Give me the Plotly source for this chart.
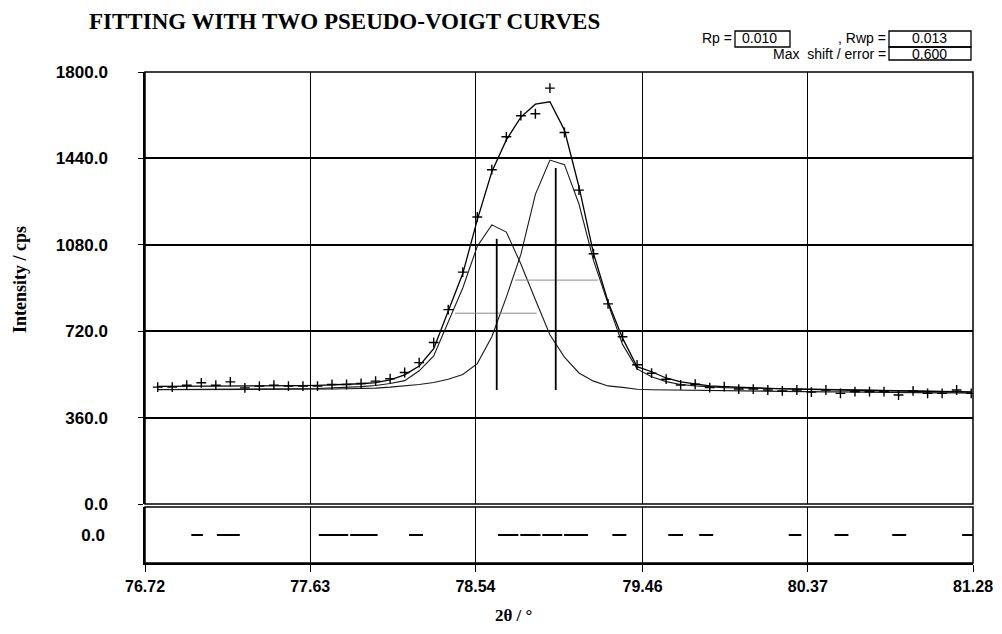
import plotly.graph_objects as go

# ---------------- data ----------------
two_theta = [76.79, 76.87, 76.95, 77.03, 77.11, 77.19, 77.27, 77.35, 77.43, 77.51,
             77.59, 77.67, 77.75, 77.83, 77.91, 77.99, 78.07, 78.15, 78.23, 78.31,
             78.39, 78.47, 78.55, 78.63, 78.71, 78.79, 78.87, 78.95, 79.03, 79.11,
             79.19, 79.27, 79.35, 79.43, 79.51, 79.59, 79.67, 79.75, 79.83, 79.91,
             79.99, 80.07, 80.15, 80.23, 80.31, 80.39, 80.47, 80.55, 80.63, 80.71,
             80.79, 80.87, 80.95, 81.03, 81.11, 81.19, 81.27]

observed = [487, 487, 495, 505, 495, 509, 484, 491, 495, 491,
            491, 491, 498, 498, 502, 512, 522, 548, 589, 673,
            810, 966, 1196, 1393, 1530, 1618, 1626, 1733, 1548, 1308,
            1043, 834, 697, 580, 545, 520, 496, 499, 485, 489,
            479, 479, 475, 471, 475, 466, 475, 461, 468, 468,
            468, 454, 471, 461, 461, 475, 461]

fit_total = [490, 490, 490, 490, 490, 490, 490, 491, 491, 492,
             493, 494, 496, 498, 501, 506, 517, 538, 575, 647,
             805, 960, 1184, 1384, 1517, 1612, 1666, 1676, 1558, 1322,
             1044, 843, 691, 572, 551, 525, 509, 500, 492, 489,
             486, 484, 482, 480, 479, 477, 476, 475, 474, 473,
             472, 471, 470, 469, 468, 467, 466]

component_1 = [477, 477, 477, 477, 477, 477, 478, 478, 479, 479,
               480, 481, 483, 486, 489, 494, 502, 514, 555, 617,
               755, 900, 1074, 1163, 1133, 1000, 851, 705, 612, 546,
               512, 492, 486, 478, 476, 475, 474, 473, 472, 471,
               470, 470, 469, 469, 468, 468, 467, 467, 466, 466,
               465, 465, 464, 464, 463, 463, 462]

component_2 = [476, 476, 476, 477, 477, 477, 477, 477, 478, 478,
               478, 478, 479, 480, 481, 483, 487, 492, 498, 506,
               520, 540, 585, 697, 862, 1040, 1290, 1433, 1414, 1250,
               1015, 835, 665, 563, 530, 510, 498, 492, 488, 485,
               484, 483, 482, 481, 480, 479, 478, 477, 476, 475,
               474, 473, 472, 471, 470, 469, 468]

peak_position = [78.657, 78.982]
peak_top = [1105, 1400]
peak_base = [475, 475]

fwhm_left = [78.427, 78.757]
fwhm_right = [78.877, 79.214]
fwhm_level = [795, 933]

diff_start = [76.975, 77.116, 77.677, 77.850, 78.174, 78.664, 78.787, 78.908, 79.028,
              79.294, 79.602, 79.772, 80.265, 80.517, 80.835, 81.220]
diff_end = [77.039, 77.242, 77.839, 78.001, 78.251, 78.776, 78.898, 79.018, 79.160,
            79.371, 79.683, 79.849, 80.335, 80.594, 80.912, 81.280]

x_ticks = [76.72, 77.63, 78.54, 79.46, 80.37, 81.28]
x_tick_labels = ["76.72", "77.63", "78.54", "79.46", "80.37", "81.28"]
y_ticks = [0, 360, 720, 1080, 1440, 1800]
y_tick_labels = ["0.0", "360.0", "720.0", "1080.0", "1440.0", "1800.0"]

title_text = "FITTING WITH TWO PSEUDO-VOIGT CURVES"
rp_value, rwp_value, shift_value = "0.010", "0.013", "0.600"

# ---------------- layout helpers ----------------
# the page body has an 8 px margin, so the figure is drawn 8 px in from the window corner
BODY = 8
WIN_W, WIN_H = 1002, 634
W, H = WIN_W - 2 * BODY, WIN_H - 2 * BODY
L, R, T, B = 145, 973, 72, 563          # plot box in window pixels


def px(xp):
    return (xp - L) / (R - L)


def py(yp):
    return (B - yp) / (B - T)


SANS = "Liberation Sans, Arial, sans-serif"
SERIF = "Liberation Serif, Times New Roman, serif"

fig = go.Figure()

# component curves
for comp in (component_1, component_2):
    fig.add_trace(go.Scatter(x=two_theta, y=comp, mode="lines",
                             line=dict(color="#1a1a1a", width=1.1),
                             xaxis="x", yaxis="y", hoverinfo="skip"))

# FWHM bars
fx, fy = [], []
for a, b, lv in zip(fwhm_left, fwhm_right, fwhm_level):
    fx += [a, b, None]
    fy += [lv, lv, None]
fig.add_trace(go.Scatter(x=fx, y=fy, mode="lines", line=dict(color="#8a8a8a", width=1),
                         xaxis="x", yaxis="y", hoverinfo="skip"))

# peak position bars
vx, vy = [], []
for p, t, b in zip(peak_position, peak_top, peak_base):
    vx += [p, p, None]
    vy += [b, t, None]
fig.add_trace(go.Scatter(x=vx, y=vy, mode="lines", line=dict(color="black", width=1.8),
                         xaxis="x", yaxis="y", hoverinfo="skip"))

# total fit
fig.add_trace(go.Scatter(x=two_theta, y=fit_total, mode="lines",
                         line=dict(color="black", width=1.3),
                         xaxis="x", yaxis="y", hoverinfo="skip"))

# observed points
fig.add_trace(go.Scatter(x=two_theta, y=observed, mode="markers",
                         marker=dict(symbol="cross-thin", size=7, color="black",
                                     line=dict(color="black", width=1.4)),
                         xaxis="x", yaxis="y", hoverinfo="skip"))

# difference curve
dx, dy = [], []
for a, b in zip(diff_start, diff_end):
    dx += [a, b, None]
    dy += [0, 0, None]
fig.add_trace(go.Scatter(x=dx, y=dy, mode="lines", line=dict(color="black", width=2),
                         xaxis="x", yaxis="y2", hoverinfo="skip"))

main_bottom = py(504)
diff_top = py(507)
tick_font = dict(family=SANS, size=17, color="black", weight="bold")

fig.update_layout(
    width=W, height=H,
    margin=dict(l=L - BODY, r=W - (R - BODY), t=T - BODY, b=H - (B - BODY), pad=0,
                autoexpand=False),
    paper_bgcolor="white", plot_bgcolor="white",
    showlegend=False,
    xaxis=dict(domain=[0, 1], range=[76.72, 81.28], anchor="y2",
               tickvals=x_ticks, ticktext=x_tick_labels,
               ticks="outside", ticklen=7, tickwidth=1.2, tickcolor="black",
               showline=True, linecolor="black", linewidth=1.5,
               showgrid=True, gridcolor="black", gridwidth=1.3, zeroline=False,
               tickfont=dict(family=SANS, size=16, color="black", weight="bold"),
               ticklabeloverflow="allow", ticklabelstandoff=1, automargin=False),
    yaxis=dict(domain=[main_bottom, 1], range=[0, 1800], anchor="x",
               tickvals=y_ticks, ticktext=y_tick_labels,
               ticks="outside", ticklen=5, tickcolor="black",
               showline=True, linecolor="black", linewidth=1.5,
               showgrid=True, gridcolor="black", gridwidth=1.6, zeroline=False,
               tickfont=tick_font, ticklabelstandoff=27, automargin=False),
    yaxis2=dict(domain=[0, diff_top], range=[-1, 1], anchor="x",
                tickvals=[0], ticktext=["0.0"], ticks="",
                showline=True, linecolor="black", linewidth=1.5,
                showgrid=False, zeroline=False,
                tickfont=tick_font, ticklabelstandoff=35, automargin=False),
)

shapes = [
    dict(type="rect", xref="x domain", yref="y domain", x0=0, x1=1, y0=0, y1=1,
         line=dict(color="black", width=1.5)),
    dict(type="rect", xref="x domain", yref="y2 domain", x0=0, x1=1, y0=0, y1=1,
         line=dict(color="black", width=1.5)),
    # result boxes
    dict(type="rect", xref="paper", yref="paper", x0=px(735), x1=px(790), y0=py(47), y1=py(31),
         line=dict(color="black", width=1.3)),
    dict(type="rect", xref="paper", yref="paper", x0=px(889), x1=px(971), y0=py(47), y1=py(31),
         line=dict(color="black", width=1.3)),
    dict(type="rect", xref="paper", yref="paper", x0=px(889), x1=px(971), y0=py(60), y1=py(47),
         line=dict(color="black", width=1.3)),
]
fig.update_layout(shapes=shapes)

ann_font = dict(family=SANS, size=14, color="black")
annotations = [
    dict(text=title_text, x=px(88), y=py(BODY), xref="paper", yref="paper",
         xanchor="left", yanchor="top", showarrow=False, borderpad=0,
         font=dict(family=SERIF, size=23, color="black", weight="bold")),
    dict(text="Rp =", x=px(733), y=py(38.5), xref="paper", yref="paper",
         xanchor="right", yanchor="middle", showarrow=False, borderpad=0, font=ann_font),
    dict(text=rp_value, x=px(759), y=py(38.5), xref="paper", yref="paper",
         xanchor="center", yanchor="middle", showarrow=False, borderpad=0, font=ann_font),
    dict(text=", Rwp =", x=px(887), y=py(38.5), xref="paper", yref="paper",
         xanchor="right", yanchor="middle", showarrow=False, borderpad=0, font=ann_font),
    dict(text=rwp_value, x=px(929), y=py(38.5), xref="paper", yref="paper",
         xanchor="center", yanchor="middle", showarrow=False, borderpad=0, font=ann_font),
    dict(text="Max  shift / error =", x=px(887), y=py(54), xref="paper", yref="paper",
         xanchor="right", yanchor="middle", showarrow=False, borderpad=0, font=ann_font),
    dict(text=shift_value, x=px(929), y=py(54), xref="paper", yref="paper",
         xanchor="center", yanchor="middle", showarrow=False, borderpad=0, font=ann_font),
    dict(text="Intensity / cps", x=px(20), y=py(280), xref="paper", yref="paper",
         xanchor="center", yanchor="middle", textangle=-90, showarrow=False,
         font=dict(family=SERIF, size=18, color="black", weight="bold")),
    dict(text="2θ / °", x=px(513), y=py(WIN_H - BODY), xref="paper", yref="paper",
         xanchor="center", yanchor="bottom", showarrow=False, borderpad=0,
         font=dict(family=SERIF, size=17, color="black", weight="bold")),
]
fig.update_layout(annotations=annotations)

fig.write_html("out.html")
